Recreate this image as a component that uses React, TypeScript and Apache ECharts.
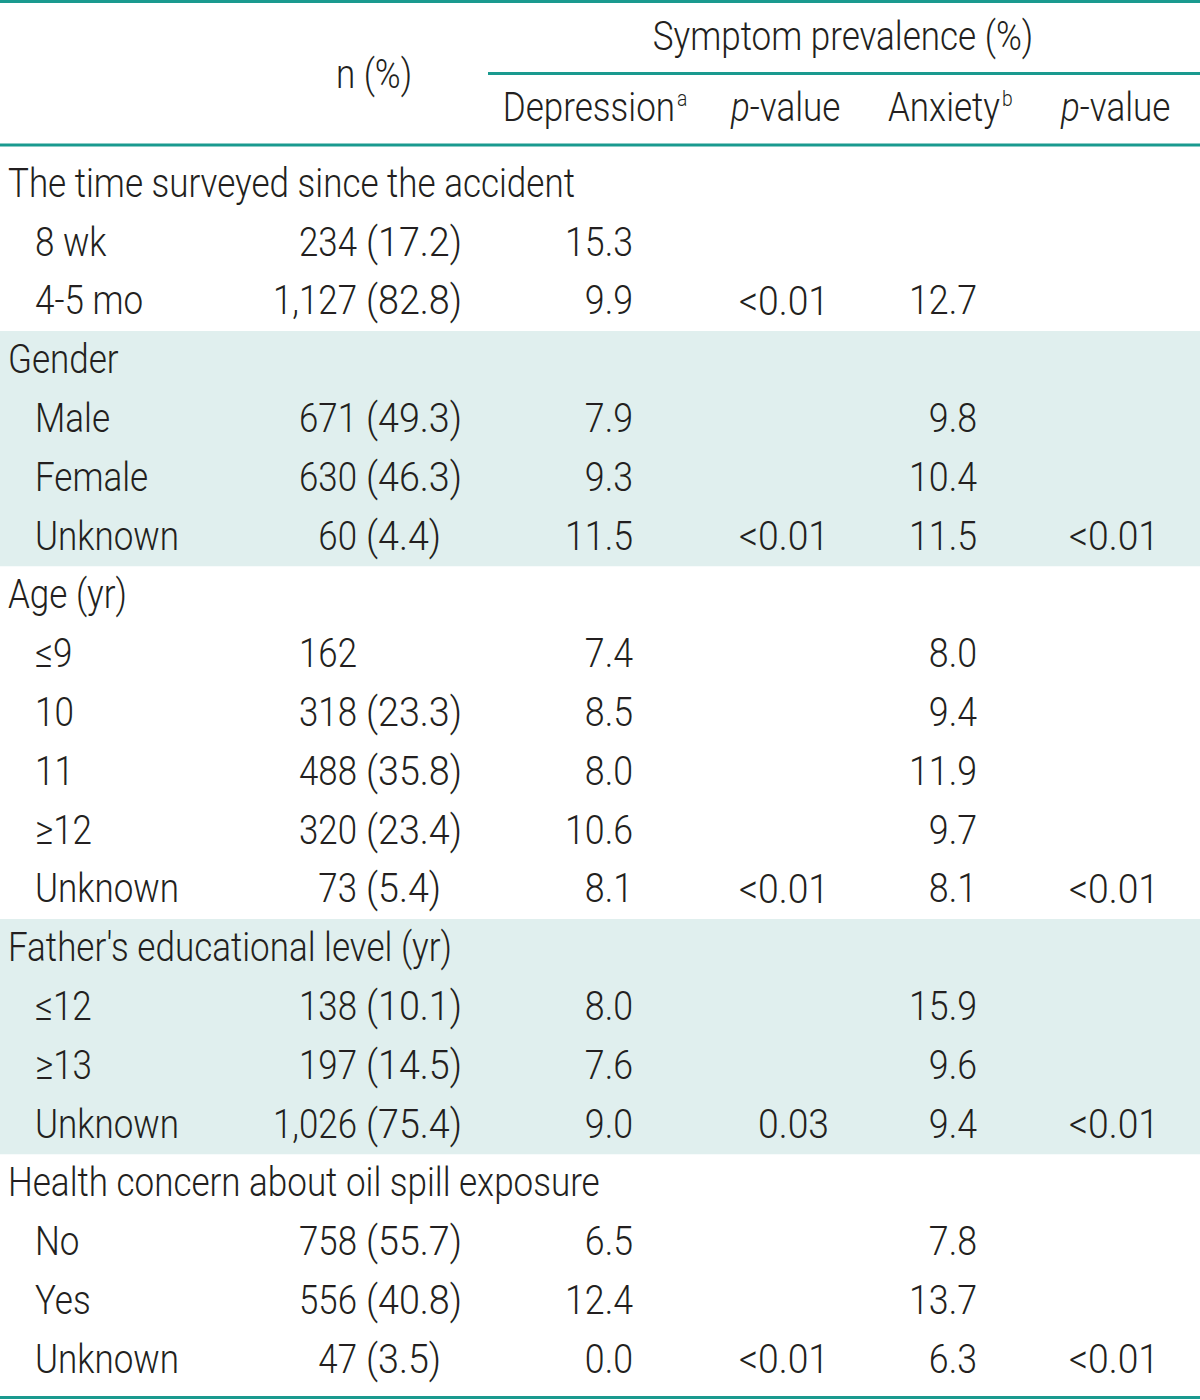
import React, { useEffect, useRef } from "react";
import * as echarts from "echarts";

// ---- Table data ----
const rowLabels = [
  "The time surveyed since the accident",
  "8 wk",
  "4-5 mo",
  "Gender",
  "Male",
  "Female",
  "Unknown",
  "Age (yr)",
  "≤9",
  "10",
  "11",
  "≥12",
  "Unknown",
  "Father's educational level (yr)",
  "≤12",
  "≥13",
  "Unknown",
  "Health concern about oil spill exposure",
  "No",
  "Yes",
  "Unknown",
];
const groupRows = [0, 3, 7, 13, 17];
const shadedBlocks = [
  [3, 6],
  [13, 16],
];
const nValues = ["", "234", "1,127", "", "671", "630", "60", "", "162", "318", "488", "320", "73", "", "138", "197", "1,026", "", "758", "556", "47"];
const nPercents = ["", "17.2", "82.8", "", "49.3", "46.3", "4.4", "", "", "23.3", "35.8", "23.4", "5.4", "", "10.1", "14.5", "75.4", "", "55.7", "40.8", "3.5"];
const depression = ["", "15.3", "9.9", "", "7.9", "9.3", "11.5", "", "7.4", "8.5", "8.0", "10.6", "8.1", "", "8.0", "7.6", "9.0", "", "6.5", "12.4", "0.0"];
const depressionP = ["", "", "<0.01", "", "", "", "<0.01", "", "", "", "", "", "<0.01", "", "", "", "0.03", "", "", "", "<0.01"];
const anxiety = ["", "", "12.7", "", "9.8", "10.4", "11.5", "", "8.0", "9.4", "11.9", "9.7", "8.1", "", "15.9", "9.6", "9.4", "", "7.8", "13.7", "6.3"];
const anxietyP = ["", "", "", "", "", "", "<0.01", "", "", "", "", "", "<0.01", "", "", "", "<0.01", "", "", "", "<0.01"];

const headerSpan = "Symptom prevalence (%)";
const headerN = "n (%)";
const headerDep = "Depression";
const headerDepSup = "a";
const headerAnx = "Anxiety";
const headerAnxSup = "b";

// ---- Styling ----
const FONT = "Roboto";
const FW = 300;
const FS = 40;
const INK = "#231f20";
const TEAL = "#1a9a8f";
const SHADE = "#e0efee";

export default function App() {
  const ref = useRef<HTMLDivElement>(null);

  useEffect(() => {
    document.body.style.margin = "0";
    const chart = echarts.init(ref.current!, null, { renderer: "svg" });

    const canvas = document.createElement("canvas");
    const ctx = canvas.getContext("2d")!;
    ctx.font = `${FW} ${FS}px ${FONT}`;
    const w = (s: string) => ctx.measureText(s).width;
    const sx = 567 / w(rowLabels[0]);
    const sxN = 84 / w("1,127");
    const sxPct = 96 / w("(82.8)");
    const sxNum = 68 / w("12.7");
    const sxP = 90 / w("<0.01");

    const ROW0 = 183;
    const ROW_H = 58.8;
    const rowY = (i: number) => ROW0 + ROW_H * i;

    const txt = (
      text: string,
      x: number,
      y: number,
      align: string,
      extra: any = {},
      scale: number = sx
    ) => ({
      type: "text",
      x,
      y,
      scaleX: scale,
      z: 10,
      silent: true,
      style: {
        text,
        fill: INK,
        fontSize: FS,
        fontWeight: FW,
        fontFamily: FONT,
        align,
        textAlign: align,
        verticalAlign: "middle",
        textVerticalAlign: "middle",
        ...extra,
      },
    });

    const els: any[] = [];

    // shaded blocks
    shadedBlocks.forEach(([a, b]) => {
      const top = rowY(a) - ROW_H / 2 + 1;
      const bot = rowY(b) + ROW_H / 2 + 1;
      els.push({
        type: "rect",
        z: 0,
        silent: true,
        shape: { x: 0, y: top, width: 1200, height: bot - top },
        style: { fill: SHADE },
      });
    });

    // rules
    const hline = (x1: number, x2: number, y: number) => ({
      type: "line",
      z: 5,
      silent: true,
      shape: { x1, y1: y, x2, y2: y },
      style: { stroke: TEAL, lineWidth: 3 },
    });
    els.push(hline(0, 1200, 1.5));
    els.push(hline(488, 1200, 73.5));
    els.push(hline(0, 1200, 145));
    els.push(hline(0, 1200, 1397.5));

    // header
    const pRich = {
      i: { fontStyle: "italic", fontSize: FS, fontWeight: FW, fontFamily: FONT, fill: INK },
    };
    els.push(txt(headerSpan, 843, 36, "center"));
    els.push(txt(headerN, 374, 74, "center"));
    els.push(txt(headerDep, 675, 107.5, "right"));
    els.push(txt(headerDepSup, 677, 99, "left", { fontSize: 22 }));
    els.push(txt("{i|p}-value", 731, 107.5, "left", { rich: pRich }));
    els.push(txt(headerAnx, 1000, 107.5, "right"));
    els.push(txt(headerAnxSup, 1002, 99, "left", { fontSize: 22 }));
    els.push(txt("{i|p}-value", 1061, 107.5, "left", { rich: pRich }));

    // body
    rowLabels.forEach((label, i) => {
      const y = rowY(i);
      const isGroup = groupRows.indexOf(i) >= 0;
      els.push(txt(label, isGroup ? 8 : 35, y, "left"));
      if (nValues[i]) els.push(txt(nValues[i], 357, y, "right", {}, sxN));
      if (nPercents[i]) els.push(txt(`(${nPercents[i]})`, 366, y, "left", {}, sxPct));
      if (depression[i]) els.push(txt(depression[i], 633, y, "right", {}, sxNum));
      if (depressionP[i]) els.push(txt(depressionP[i], 829, y, "right", {}, sxP));
      if (anxiety[i]) els.push(txt(anxiety[i], 977, y, "right", {}, sxNum));
      if (anxietyP[i]) els.push(txt(anxietyP[i], 1159, y, "right", {}, sxP));
    });

    chart.setOption({
      animation: false,
      graphic: { elements: els },
    });

    return () => chart.dispose();
  }, []);

  return (
    <div
      ref={ref}
      style={{ position: "absolute", left: 0, top: 0, width: 1200, height: 1400, background: "#fff" }}
    />
  );
}
